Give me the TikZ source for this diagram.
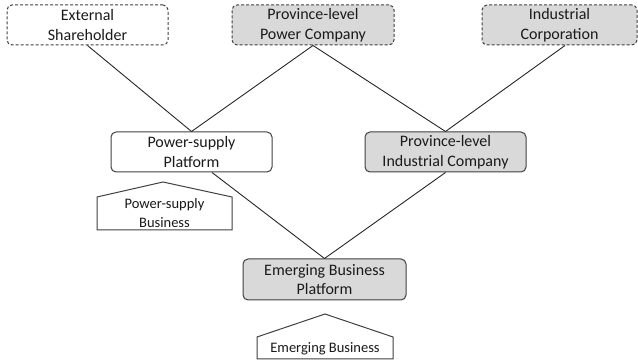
\documentclass[tikz,border=0pt]{standalone}
\usepackage{fontspec}
\setmainfont{Carlito}
\usetikzlibrary{calc}
\definecolor{boxline}{HTML}{404040}
\definecolor{boxfill}{HTML}{D9D9D9}
\definecolor{txt}{HTML}{1A1A1A}
\begin{document}
\begin{tikzpicture}[x=1pt,y=-1pt,
  entity/.style={draw=boxline, line width=1pt, rounded corners=5pt, align=center,
    text=txt, inner sep=0pt, font=\fontsize{16}{19.5}\selectfont},
  outside/.style={entity, dash pattern=on 3pt off 2pt},
  shaded/.style={fill=boxfill},
  link/.style={draw=black!85, line width=0.9pt},
  biz/.style={draw=boxline, line width=1pt, fill=white},
  biztext/.style={align=center, text=txt, inner sep=0pt, font=\fontsize{14.5}{19}\selectfont}]
\useasboundingbox (0,0) rectangle (638,363);

% shareholders
\node[outside, minimum width=161pt, minimum height=40pt] (es) at (87.5,25) {External\\Shareholder};
\node[outside, shaded, minimum width=162pt, minimum height=40pt] (ppc) at (313,25) {Province-level\\Power Company};
\node[outside, shaded, minimum width=155pt, minimum height=40pt] (ic) at (559.5,25) {Industrial\\Corporation};

% platforms
\node[entity, minimum width=161pt, minimum height=40pt] (psp) at (191.5,152) {Power-supply\\Platform};
\node[entity, shaded, minimum width=161pt, minimum height=40pt] (plic) at (445.5,152) {Province-level\\Industrial Company};
\node[entity, shaded, minimum width=163pt, minimum height=41pt] (ebp) at (324.5,279.5) {Emerging Business\\Platform};

% ownership links
\draw[link] (es.south) -- (psp.north);
\draw[link] (ppc.south) -- (psp.north);
\draw[link] (ppc.south) -- (plic.north);
\draw[link] ($(ic.south)+(5.5,0)$) -- (plic.north);
\draw[link] ($(psp.south)+(20.5,0)$) -- (ebp.north);
\draw[link] (plic.south) -- (ebp.north);

% business houses
\coordinate (psbl) at (97,230);
\coordinate (psbr) at (232,230);
\draw[biz] (psbl) -- (97,197) -- (163,182) -- (232,197) -- (psbr) -- cycle;
\node[biztext] (psb) at (164.5,213) {Power-supply\\Business};

\coordinate (ebbl) at (257,359);
\coordinate (ebbr) at (393,359);
\draw[biz] (ebbl) -- (257,337) -- (325,314) -- (393,337) -- (ebbr) -- cycle;
\node[biztext] (ebb) at (325,348.5) {Emerging Business};
\end{tikzpicture}
\end{document}
